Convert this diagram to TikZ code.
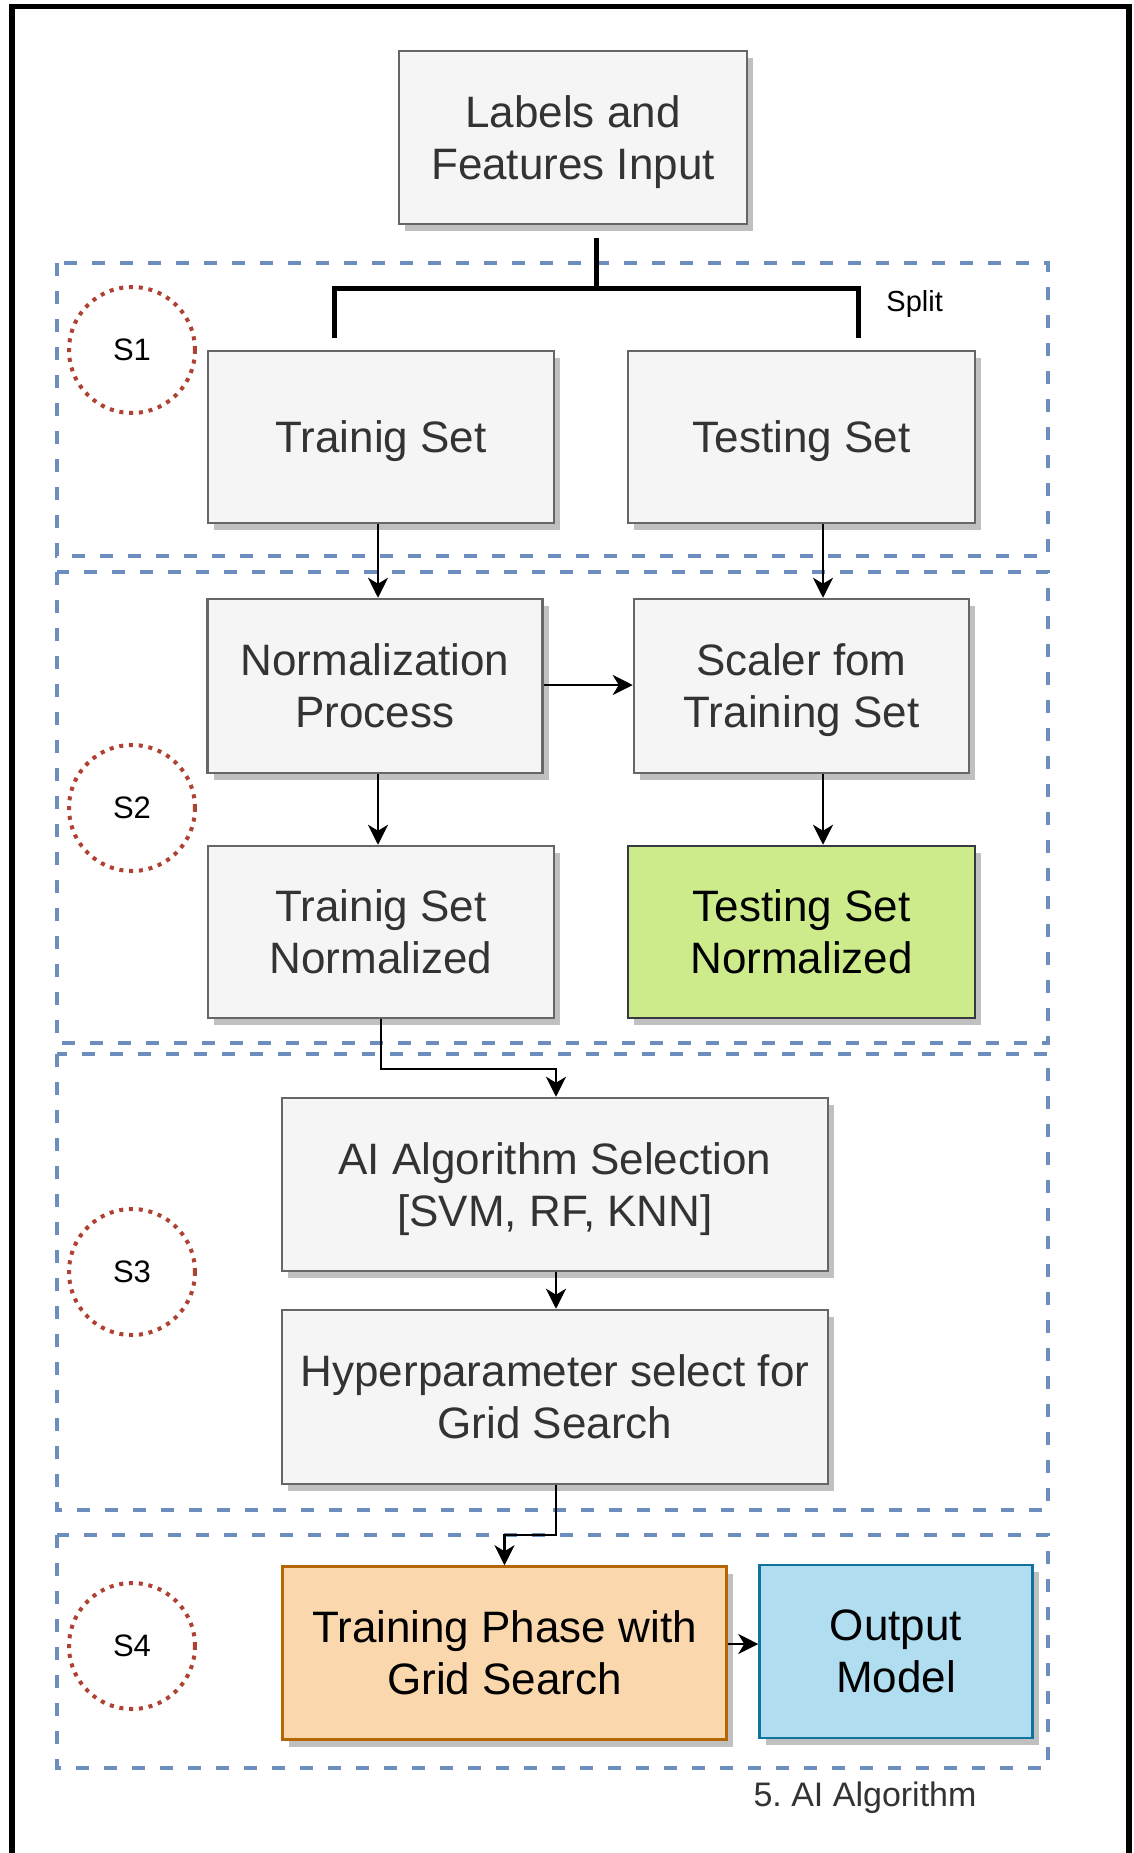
\documentclass[tikz,border=0pt]{standalone}
\usepackage{fontspec}
\setmainfont{Liberation Sans}
\usetikzlibrary{arrows.meta,shadows}
\frenchspacing
\definecolor{gfill}{HTML}{F5F5F5}
\definecolor{gline}{HTML}{666666}
\definecolor{gtext}{HTML}{333333}
\definecolor{grfill}{HTML}{CDEB8B}
\definecolor{grline}{HTML}{36393D}
\definecolor{orfill}{HTML}{FAD7AC}
\definecolor{orline}{HTML}{B46504}
\definecolor{blfill}{HTML}{B1DDF0}
\definecolor{blline}{HTML}{10739E}
\definecolor{regcol}{HTML}{6C8EBF}
\definecolor{circcol}{HTML}{AE4132}
\definecolor{shcol}{HTML}{C0C0C0}
\newcommand\fmain{\fontsize{22}{26}\selectfont}
\tikzset{
  box/.style={draw=gline, fill=gfill, line width=1.25pt, text=gtext, font=\fmain,
    align=center, inner sep=0pt, text depth=0pt,
    general shadow={fill=shcol, shadow xshift=3pt, shadow yshift=-3.5pt}},
  colbox/.style={box, text=black},
  region/.style={draw=regcol, line width=2pt, dash pattern=on 6.5pt off 7.5pt},
  stagecirc/.style={circle, draw=circcol, line width=2pt, dash pattern=on 2pt off 2.9pt,
    minimum size=63pt, inner sep=0pt, font=\fontsize{15.5}{18}\selectfont},
  arr/.style={draw=black, line width=1.3pt, -{Stealth[length=10pt,width=10pt,inset=3pt]}},
  bracket/.style={draw=black, line width=2.5pt, line join=miter},
}
\begin{document}
\begin{tikzpicture}[x=0.5pt,y=-0.5pt]
\useasboundingbox (0,0) rectangle (1134,1853);
\clip (0,0) rectangle (1134,1853);
\fill[white] (0,0) rectangle (1134,1853);

% outer frame
\draw[line width=2.6pt] (12,6.5) rectangle (1129,1950);

% stage regions
\draw[region] (57,263) rectangle (1048,556);
\draw[region] (57,572) rectangle (1048,1043);
\draw[region] (57,1054) rectangle (1048,1510);
\draw[region] (57,1535) rectangle (1048,1768);

% stage circles
\node[stagecirc] (s1) at (132,350) {S1};
\node[stagecirc] (s2) at (132,808) {S2};
\node[stagecirc] (s3) at (132,1272) {S3};
\node[stagecirc] (s4) at (132,1646) {S4};

% boxes
\node[box, minimum width=174pt, minimum height=86.5pt] (inp) at (573,137.5) {Labels and\\Features Input};
\node[box, minimum width=173pt, minimum height=86pt] (trs) at (381,437) {Trainig Set};
\node[box, minimum width=173.5pt, minimum height=86pt] (tes) at (801.5,437) {Testing Set};
\node[box, minimum width=167.5pt, minimum height=87pt] (nrm) at (375,686) {Normalization\\Process};
\node[box, minimum width=167.5pt, minimum height=87pt] (scl) at (801.5,686) {Scaler fom\\Training Set};
\node[box, minimum width=173pt, minimum height=86pt] (trn) at (381,932) {Trainig Set\\Normalized};
\node[colbox, draw=grline, fill=grfill, minimum width=173.5pt, minimum height=86pt] (ten) at (801.5,932) {Testing Set\\Normalized};
\node[box, minimum width=273pt, minimum height=86.5pt] (ais) at (555,1184.5) {AI Algorithm Selection\\{}[SVM, RF, KNN]};
\node[box, minimum width=273pt, minimum height=87pt] (hyp) at (555,1397) {Hyperparameter select for\\Grid Search};
\node[colbox, draw=orline, fill=orfill, minimum width=222pt, minimum height=86.5pt] (tph) at (504.5,1653) {Training Phase with\\Grid Search};
\node[colbox, draw=blline, fill=blfill, minimum width=136.5pt, minimum height=86.5pt] (out) at (896,1651.5) {Output\\Model};

% split bracket
\coordinate (sp) at (596,288);
\coordinate (spL) at (334,338);
\coordinate (spR) at (858,338);
\draw[bracket] ([yshift=-6.5pt]inp.south -| sp) -- (sp);
\draw[bracket] (spL) |- (sp) -| (spR);
\node[anchor=base west, inner sep=0pt, font=\fontsize{14.5}{17}\selectfont] (split) at (886,311) {Split};

% connectors
\coordinate (cL) at (378,0);
\coordinate (cR) at (823,0);
\coordinate (cM) at (556,0);
\coordinate (rowN) at (0,685);
\coordinate (e1) at (556,1069);
\coordinate (e2) at (504.5,1535);
\coordinate (rowO) at (0,1644);
\draw[arr] (trs.south -| cL) -- (nrm.north -| cL);
\draw[arr] (tes.south -| cR) -- (scl.north -| cR);
\draw[arr] (nrm.east |- rowN) -- (scl.west |- rowN);
\draw[arr] (nrm.south -| cL) -- (trn.north -| cL);
\draw[arr] (scl.south -| cR) -- (ten.north -| cR);
\draw[arr] (trn.south) |- (e1) -- (ais.north -| e1);
\draw[arr] (ais.south -| cM) -- (hyp.north -| cM);
\draw[arr] (hyp.south -| cM) |- (e2) -- (tph.north);
\draw[arr] (tph.east |- rowO) -- (out.west |- rowO);

% caption
\node[anchor=base, inner sep=0pt, text=gtext, font=\fontsize{17}{20}\selectfont] (cap) at (865,1806) {5. AI Algorithm};
\end{tikzpicture}
\end{document}
